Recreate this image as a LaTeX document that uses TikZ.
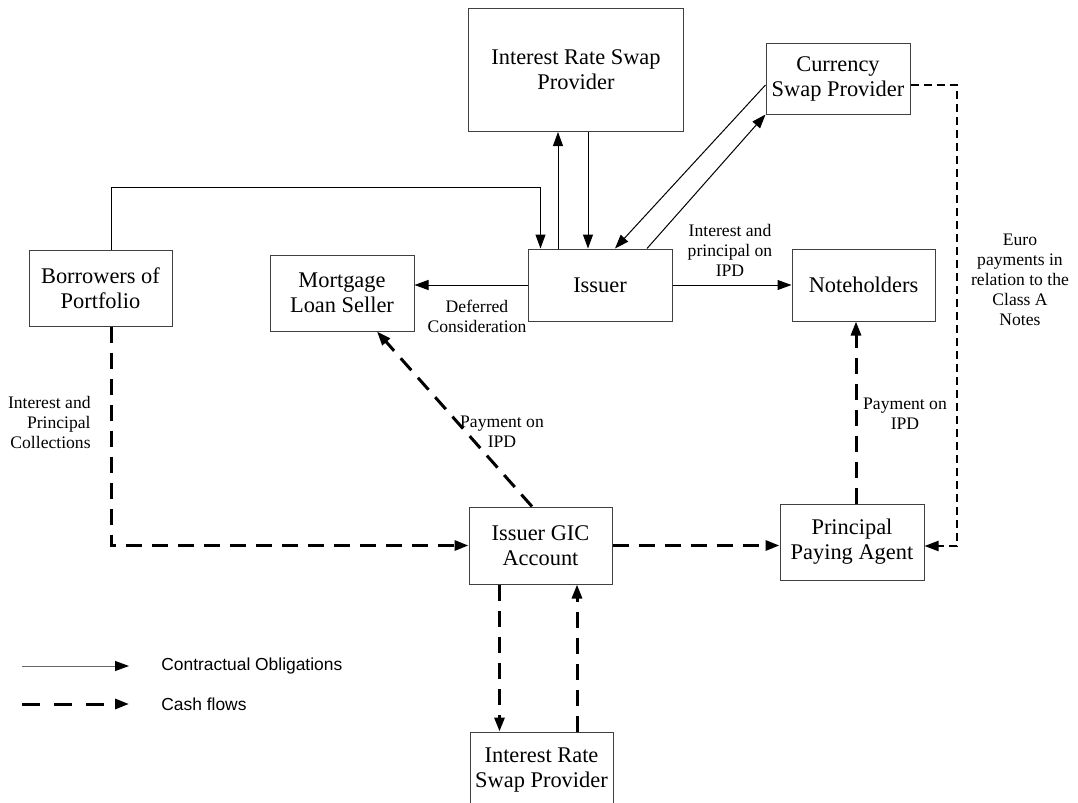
\documentclass[tikz,border=0pt]{standalone}
\usepackage{fontspec}
\setmainfont{Liberation Serif}
\newfontfamily\legendfont{Liberation Sans}
\usepackage{tikz}
\usetikzlibrary{arrows.meta}
\newcommand{\boxfont}{\fontsize{11.2}{12.5}\selectfont}
\newcommand{\lblfont}{\fontsize{8.8}{10}\selectfont}

\begin{document}
\begin{tikzpicture}[x=0.5pt,y=-0.5pt,
  party/.style={draw=black!75,line width=0.5pt,inner sep=0pt,align=center,font=\boxfont},
  lbl/.style={inner sep=0pt,align=center,font=\lblfont},
  contract/.style={line width=0.5pt,-{Triangle[length=7pt,width=5pt]}},
  cash/.style={line width=1.5pt,dash pattern=on 8pt off 5pt,-{Triangle[length=7pt,width=5pt]}},
  euro/.style={line width=1pt,dash pattern=on 4pt off 2.5pt,-{Triangle[length=7pt,width=5pt]}}]
\clip (0,0) rectangle (1078,803);

\node[party,minimum width=107.5pt,minimum height=61.5pt] (irsTop) at (576,70) {Interest Rate Swap\\Provider};
\node[party,minimum width=72pt,minimum height=35.5pt] (csp) at (838,78.5) {Currency\\Swap Provider};
\node[party,minimum width=71.5pt,minimum height=38pt] (bor) at (100.5,288) {Borrowers of\\Portfolio};
\node[party,minimum width=72pt,minimum height=38pt] (mls) at (342,293) {Mortgage\\Loan Seller};
\node[party,minimum width=72pt,minimum height=36pt] (iss) at (600,285) {Issuer};
\node[party,minimum width=71.5pt,minimum height=36pt] (noteh) at (863.5,285) {Noteholders};
\node[party,minimum width=71.5pt,minimum height=38.5pt] (gic) at (540.5,545.5) {Issuer GIC\\Account};
\node[party,minimum width=72pt,minimum height=38pt] (ppa) at (852,542) {Principal\\Paying Agent};
\node[party,minimum width=71.5pt,minimum height=38pt] (irsBot) at (541.5,770) {Interest Rate\\Swap Provider};

\draw[contract] ([xshift=5.25pt]bor.north) -- ++(0,-62) -| ([xshift=6.5pt]iss.north west);
\draw[contract] ([xshift=-9pt]irsTop.south |- iss.north) -- ([xshift=-9pt]irsTop.south);
\draw[contract] ([xshift=6pt]irsTop.south) -- ([xshift=6pt]irsTop.south |- iss.north);
\draw[contract] ([yshift=-3.25pt]csp.west) -- ([xshift=7.5pt]iss.north);
\draw[contract] ([xshift=23.5pt]iss.north) -- (csp.south west);
\draw[contract] (iss.east) -- (noteh.west);
\draw[contract] (iss.west) -- (iss.west -| mls.east);

\draw[cash] ([xshift=5.25pt]bor.south) |- (gic.west);
\draw[cash] ([xshift=-4.25pt]gic.north) -- ([xshift=17.5pt]mls.south);
\draw[cash] (gic.east) -- (gic.east -| ppa.west);
\draw[cash] ([xshift=2pt]ppa.north) -- ([xshift=2pt]ppa.north |- noteh.south);
\draw[cash] ([xshift=-20.5pt]gic.south) -- ([xshift=-20.5pt]gic.south |- irsBot.north);
\draw[cash] ([xshift=17.75pt]irsBot.north) -- ([xshift=17.75pt]irsBot.north |- gic.south);
\draw[euro] ([yshift=-3.25pt]csp.east) -| ([xshift=16pt,yshift=-2pt]ppa.east) -- ([yshift=-2pt]ppa.east);

\node[lbl] (lblNotes) at (730,250) {Interest and\\principal on\\IPD};
\node[lbl] (lblDef) at (477,316) {Deferred\\Consideration};
\node[lbl,anchor=east,align=right] (lblColl) at (91,422) {Interest and\\Principal\\Collections};
\node[lbl] (lblPayL) at (502,432) {Payment on\\IPD};
\node[lbl] (lblPayR) at (905,414) {Payment on\\IPD};
\node[lbl] (lblEuro) at (1020,280) {Euro\\payments in\\relation to the\\Class A\\Notes};

\coordinate (lgA) at (22,666);
\coordinate (lgB) at (129,666);
\coordinate (lgC) at (22,704);
\coordinate (lgD) at (129,704);
\draw[black!60,line width=0.5pt,-{Triangle[length=7pt,width=5pt,black]}] (lgA) -- (lgB);
\draw[cash,dash pattern=on 9pt off 7pt] (lgC) -- (lgD);
\node[anchor=west,inner sep=0pt,font=\legendfont\fontsize{8.7}{10}\selectfont] (lgTxtA) at (161,666) {Contractual Obligations};
\node[anchor=west,inner sep=0pt,font=\legendfont\fontsize{8.7}{10}\selectfont] (lgTxtB) at (161,704) {Cash flows};
\end{tikzpicture}
\end{document}
